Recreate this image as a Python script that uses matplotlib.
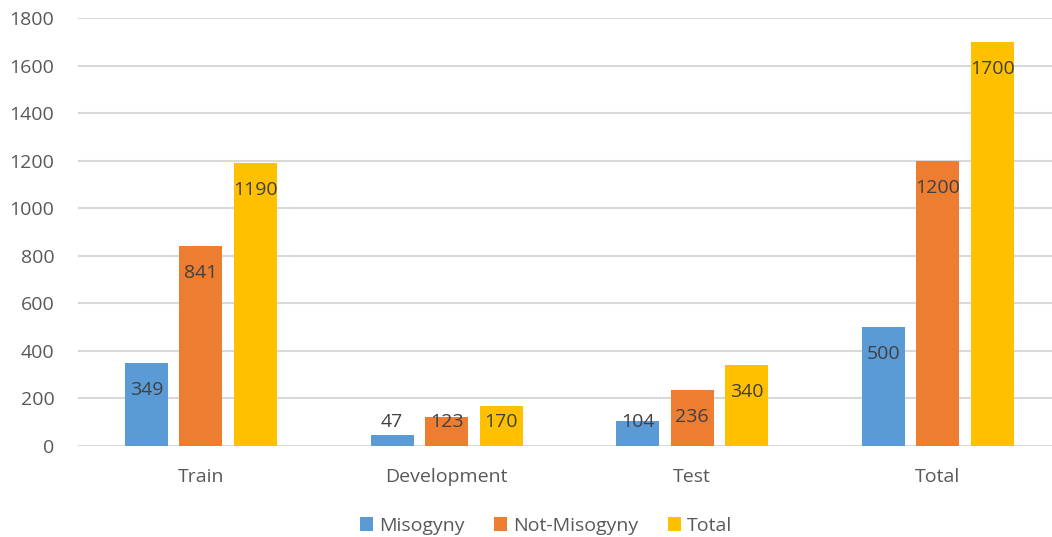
import matplotlib
matplotlib.use("Agg")
import matplotlib.pyplot as plt
import numpy as np

categories = ["Train", "Development", "Test", "Total"]
misogyny = [349, 47, 104, 500]
not_misogyny = [841, 123, 236, 1200]
total = [1190, 170, 340, 1700]
series_names = ["Misogyny", "Not-Misogyny", "Total"]
yticks = [0, 200, 400, 600, 800, 1000, 1200, 1400, 1600, 1800]

colors = ["#5B9BD5", "#ED7D31", "#FFC000"]
plt.rcParams['font.family'] = ['Open Sans', 'DejaVu Sans']

W, H = 1052, 537
fig = plt.figure(figsize=(W / 100, H / 100), dpi=100)
left_px, right_px, top_px, bot_px = 78, 1052, 18, 446
ax = fig.add_axes([left_px / W, 1 - bot_px / H, (right_px - left_px) / W, (bot_px - top_px) / H])

cat_px = 245.7
x = np.arange(len(categories))
ax.set_xlim(-0.5, -0.5 + (right_px - left_px) / cat_px)
ax.set_ylim(0, 1800)

bar_w = 43 / cat_px
step = 54.5 / cat_px
px_per_unit = (bot_px - top_px) / 1800.0
for i, (vals, c, name) in enumerate(zip([misogyny, not_misogyny, total], colors, series_names)):
    pos = x + (i - 1) * step
    ax.bar(pos, vals, width=bar_w, color=c, label=name, zorder=3)
    for p, v in zip(pos, vals):
        yl = max(v - 27 / px_per_unit, 24 / px_per_unit)
        ax.text(p, yl, str(v), ha='center', va='center', fontsize=14, color='#404040', zorder=4)

ax.set_yticks(yticks)
ax.set_xticks(x)
ax.set_xticklabels(categories)
ax.yaxis.grid(True, color='#D9D9D9', linewidth=1.5, zorder=0)
ax.set_axisbelow(True)
for s in ax.spines.values():
    s.set_visible(False)
ax.tick_params(axis='both', length=0, colors='#595959', labelsize=14)
ax.tick_params(axis='y', pad=17)
ax.tick_params(axis='x', pad=16)

ax.legend(loc='center', bbox_to_anchor=(546 / W, 1 - 526 / H), bbox_transform=fig.transFigure,
          ncol=3, frameon=False, fontsize=14, labelcolor='#595959',
          handlelength=0.7, handleheight=0.7, handletextpad=0.3, columnspacing=1.5)

fig.savefig("out.png", dpi=100)
